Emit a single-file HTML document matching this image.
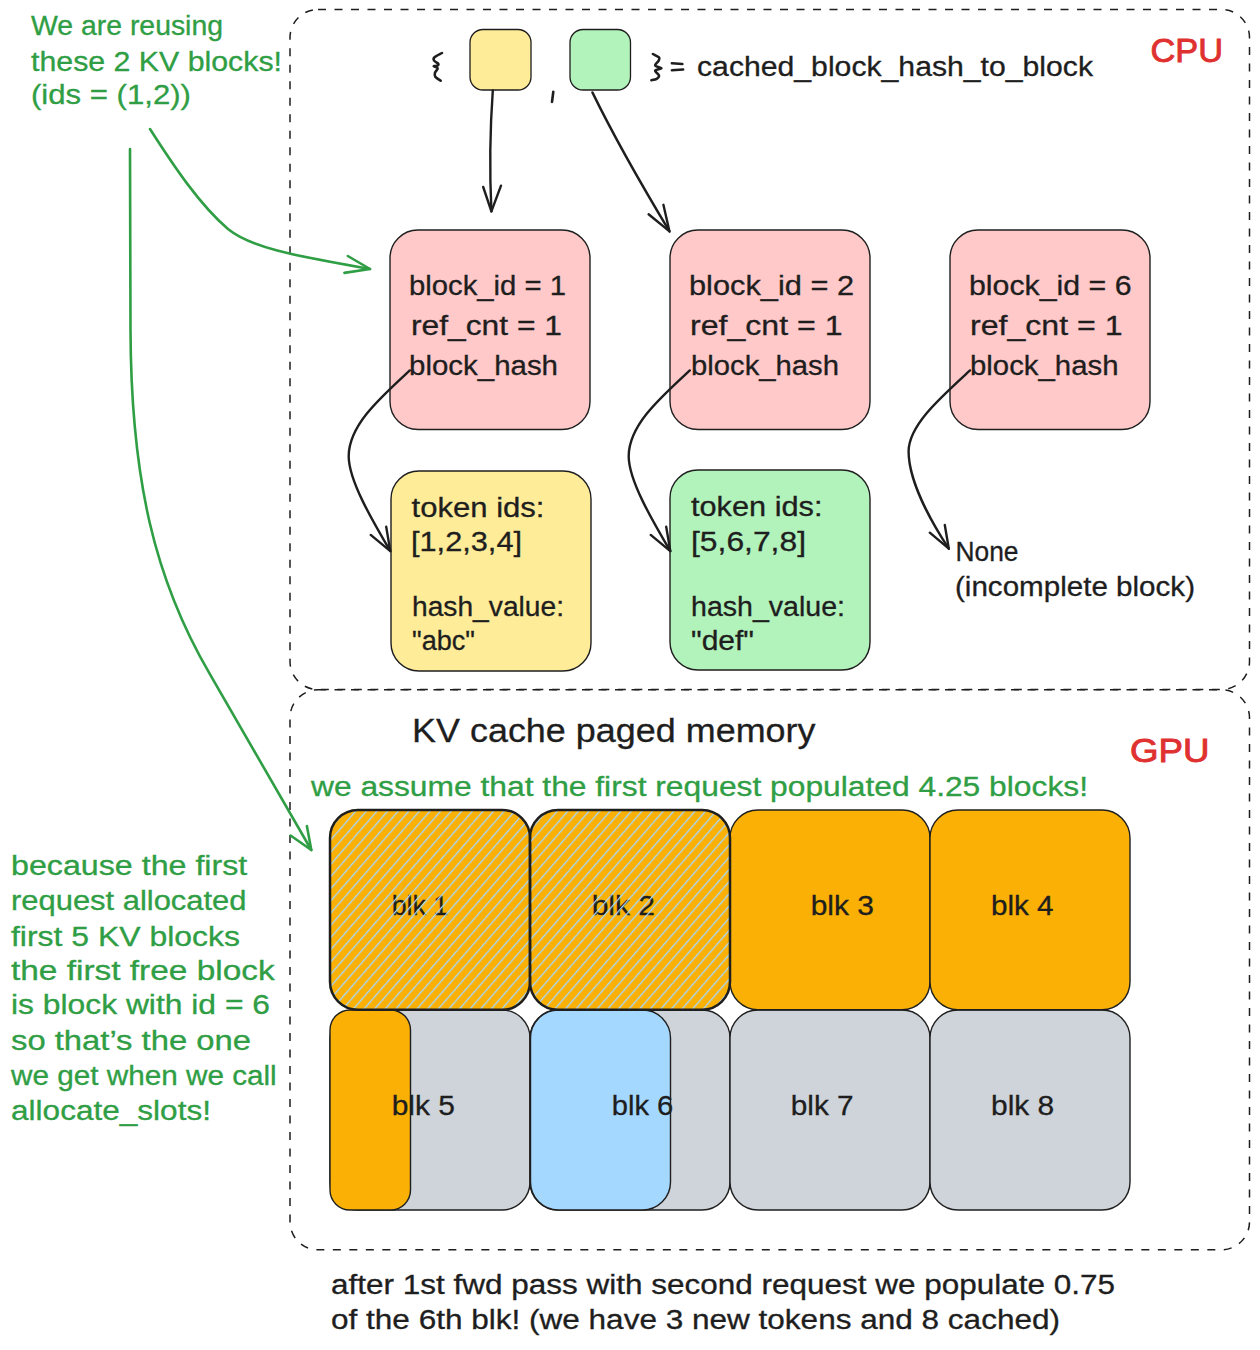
<!DOCTYPE html>
<html><head><meta charset="utf-8"><title>KV cache</title>
<style>
html,body{margin:0;padding:0;background:#fff;width:1260px;height:1350px;overflow:hidden}
svg{display:block}
text{font-family:"Liberation Sans",sans-serif;}
.k{fill:#1e1e1e;stroke:#1e1e1e;stroke-width:0.3}
.g{fill:#2f9e44;stroke:#2f9e44;stroke-width:0.3}
.r{fill:#e03131;stroke:#e03131;stroke-width:0.9}
</style></head><body>
<svg width="1260" height="1350" viewBox="0 0 1260 1350">
<defs>
<pattern id="hatch" patternUnits="userSpaceOnUse" width="8" height="8" patternTransform="rotate(41)">
<rect x="0" y="0" width="1.3" height="8" fill="#a5d8ff"/>
</pattern>
</defs>
<!-- containers -->
<g fill="none" stroke="#1e1e1e" stroke-width="1.5" stroke-dasharray="8 8.5">
<rect x="290" y="9.5" width="959.5" height="680" rx="28"/>
<rect x="290" y="689.8" width="959.5" height="560" rx="28"/>
</g>

<!-- small map squares -->
<g stroke="#1e1e1e" stroke-width="1.3">
<rect x="470" y="29.5" width="61" height="60.5" rx="13" fill="#ffec99"/>
<rect x="570" y="29.5" width="60.5" height="60.5" rx="13" fill="#b2f2bb"/>
</g>

<!-- pink boxes -->
<g stroke="#1e1e1e" stroke-width="1.4" fill="#ffc9c9">
<rect x="390" y="230" width="200" height="199.5" rx="28"/>
<rect x="670" y="230" width="200" height="199.5" rx="28"/>
<rect x="950" y="230" width="200" height="199.5" rx="28"/>
</g>
<g stroke="#1e1e1e" stroke-width="1.4">
<rect x="391" y="471" width="200" height="200" rx="28" fill="#ffec99"/>
<rect x="670" y="470" width="200" height="200" rx="28" fill="#b2f2bb"/>
</g>

<!-- GPU blocks row 2 -->
<g stroke="#1e1e1e" stroke-width="1.4" fill="#ced4da">
<rect x="330" y="1010" width="200" height="200" rx="28"/>
<rect x="530" y="1010" width="200" height="200" rx="28"/>
<rect x="730" y="1010" width="200" height="200" rx="28"/>
<rect x="930" y="1010" width="200" height="200" rx="28"/>
</g>
<g stroke="#1e1e1e" stroke-width="1.4">
<rect x="330" y="1010" width="80.5" height="200" rx="20" fill="#fab005"/>
<rect x="530.5" y="1010" width="140" height="200" rx="28" fill="#a5d8ff"/>
</g>
<!-- GPU blocks row 1 -->
<g stroke="#1e1e1e" stroke-width="1.4" fill="#fab005">
<rect x="730" y="810" width="200" height="199.8" rx="28"/>
<rect x="930" y="810" width="200" height="199.8" rx="28"/>
</g>
<g>
<rect x="330" y="810" width="200" height="199.8" rx="28" fill="#fab005"/>
<rect x="530" y="810" width="200" height="199.8" rx="28" fill="#fab005"/>
</g>

<!-- black arrows -->
<g fill="none" stroke="#1e1e1e" stroke-width="2.4" stroke-linecap="round" stroke-linejoin="round">
<path d="M492.8,90.5 Q488.5,150 491.4,211.4"/>
<path d="M483.2,187 L491.4,211.4 L501,185.7"/>
<path d="M592.4,92.4 Q620.5,150 669.5,231.4"/>
<path d="M648.6,214.3 L669.5,231.4 L663.4,204.8"/>
<path d="M409.8,370.4 C380,398 349,425 348.7,455.9 C348.5,480 372,520 390.3,551.1"/>
<path d="M370.7,534.9 L390.3,551.1 L386.2,526.7"/>
<path d="M689.8,370.4 C660,398 629,425 628.7,455.9 C628.5,480 652,520 670.3,551.1"/>
<path d="M650.7,534.9 L670.3,551.1 L666.2,526.7"/>
<path d="M970,370.4 C940,398 909,425 908.6,451 C908.5,480 930,520 948.8,548.7"/>
<path d="M929.8,532.7 L948.8,548.7 L944.8,525"/>
</g>

<!-- green arrows -->
<g fill="none" stroke="#2f9e44" stroke-width="2.6" stroke-linecap="round" stroke-linejoin="round">
<path d="M150,129 C175,168 200,205 228,229 C250,247 290,255 370,269"/>
<path d="M347.8,256 L370,269 L344.4,272.9"/>
<path d="M130,149 L130.5,330 C131,480 155,580 209.6,673.6 L311.3,850"/>
<path d="M290.6,835.5 L311.3,850 L306.9,826.1"/>
</g>

<!-- texts -->
<g font-size="27">
<text class="g" x="31" y="35" textLength="192" lengthAdjust="spacingAndGlyphs">We are reusing</text>
<text class="g" x="31" y="70.6" textLength="251" lengthAdjust="spacingAndGlyphs">these 2 KV blocks!</text>
<text class="g" x="31" y="104" textLength="160" lengthAdjust="spacingAndGlyphs">(ids = (1,2))</text>

<g fill="none" stroke="#1e1e1e" stroke-width="2.6" stroke-linecap="round" stroke-linejoin="round">
<path d="M442.0,53.0 C440.8,53.7 435.8,56.0 434.5,57.3 C433.2,58.5 433.4,59.4 434.0,60.5 C434.6,61.6 437.8,62.8 438.3,63.7 C438.9,64.6 438.1,65.3 437.3,65.7 C436.5,66.1 433.6,65.9 433.7,66.3 C433.8,66.7 437.5,67.2 437.7,68.3 C437.9,69.4 435.4,71.3 435.0,72.7 C434.6,74.1 434.4,75.4 435.3,76.7 C436.2,78.0 439.8,80.0 440.7,80.7"/>
<path d="M652.9,54.0 C653.9,54.6 658.0,56.3 659.0,57.4 C660.0,58.5 659.2,59.4 658.6,60.7 C658.0,62.1 654.7,64.2 655.2,65.5 C655.7,66.8 661.4,67.4 661.4,68.3 C661.4,69.2 655.6,69.5 655.2,70.7 C654.8,71.9 658.8,74.2 659.0,75.5 C659.2,76.8 658.0,78.0 656.7,78.8 C655.4,79.6 652.3,80.0 651.4,80.2"/>
<path d="M671.9,63.3 L682.4,64 M671.9,70.2 L683.1,69.5"/>
<path d="M552,101.9 L553.3,91.8"/>
</g>
<text class="k" x="697" y="75.6" textLength="396" lengthAdjust="spacingAndGlyphs">cached_block_hash_to_block</text>

<text class="k" x="409" y="294.5" textLength="157" lengthAdjust="spacingAndGlyphs">block_id = 1</text>
<text class="k" x="411" y="334.5" textLength="151" lengthAdjust="spacingAndGlyphs">ref_cnt = 1</text>
<text class="k" x="409" y="374.5" textLength="149" lengthAdjust="spacingAndGlyphs">block_hash</text>

<text class="k" x="689" y="294.5" textLength="165" lengthAdjust="spacingAndGlyphs">block_id = 2</text>
<text class="k" x="690" y="334.5" textLength="152.5" lengthAdjust="spacingAndGlyphs">ref_cnt = 1</text>
<text class="k" x="691" y="374.5" textLength="148" lengthAdjust="spacingAndGlyphs">block_hash</text>

<text class="k" x="969" y="294.5" textLength="162.5" lengthAdjust="spacingAndGlyphs">block_id = 6</text>
<text class="k" x="970" y="334.5" textLength="152.5" lengthAdjust="spacingAndGlyphs">ref_cnt = 1</text>
<text class="k" x="970" y="374.5" textLength="148.5" lengthAdjust="spacingAndGlyphs">block_hash</text>

<text class="k" x="411.5" y="516.5" textLength="133" lengthAdjust="spacingAndGlyphs">token ids:</text>
<text class="k" x="411" y="550.5" textLength="111" lengthAdjust="spacingAndGlyphs">[1,2,3,4]</text>
<text class="k" x="412" y="615.5" textLength="152" lengthAdjust="spacingAndGlyphs">hash_value:</text>
<text class="k" x="412" y="649.5" textLength="63" lengthAdjust="spacingAndGlyphs">"abc"</text>

<text class="k" x="691" y="516" textLength="131.5" lengthAdjust="spacingAndGlyphs">token ids:</text>
<text class="k" x="691" y="550.5" textLength="115" lengthAdjust="spacingAndGlyphs">[5,6,7,8]</text>
<text class="k" x="691" y="615.5" textLength="154" lengthAdjust="spacingAndGlyphs">hash_value:</text>
<text class="k" x="691" y="649.5" textLength="63" lengthAdjust="spacingAndGlyphs">"def"</text>

<text class="k" x="955.5" y="561.3" textLength="63" lengthAdjust="spacingAndGlyphs">None</text>
<text class="k" x="955" y="596" textLength="240" lengthAdjust="spacingAndGlyphs">(incomplete block)</text>

<text class="r" x="1150.5" y="61.6" font-size="34" textLength="72.5" lengthAdjust="spacingAndGlyphs">CPU</text>

<text class="k" x="412" y="742" font-size="34" textLength="403.5" lengthAdjust="spacingAndGlyphs">KV cache paged memory</text>
<text class="r" x="1130" y="762.3" font-size="34" textLength="79.5" lengthAdjust="spacingAndGlyphs">GPU</text>
<text class="g" x="311" y="795.5" textLength="777" lengthAdjust="spacingAndGlyphs">we assume that the first request populated 4.25 blocks!</text>

<text class="k" x="391.7" y="915" textLength="56.3" lengthAdjust="spacingAndGlyphs">blk 1</text>
<text class="k" x="591.7" y="915" textLength="63.3" lengthAdjust="spacingAndGlyphs">blk 2</text>
<text class="k" x="810.7" y="915" textLength="63.3" lengthAdjust="spacingAndGlyphs">blk 3</text>
<text class="k" x="991" y="915" textLength="62.6" lengthAdjust="spacingAndGlyphs">blk 4</text>
<text class="k" x="391.7" y="1115" textLength="63.3" lengthAdjust="spacingAndGlyphs">blk 5</text>
<text class="k" x="611.7" y="1115" textLength="61.6" lengthAdjust="spacingAndGlyphs">blk 6</text>
<text class="k" x="790.7" y="1115" textLength="63" lengthAdjust="spacingAndGlyphs">blk 7</text>
<text class="k" x="991" y="1115" textLength="63.3" lengthAdjust="spacingAndGlyphs">blk 8</text>

<text class="g" x="11" y="875" textLength="236.3" lengthAdjust="spacingAndGlyphs">because the first</text>
<text class="g" x="11" y="910.3" textLength="235.5" lengthAdjust="spacingAndGlyphs">request allocated</text>
<text class="g" x="11" y="945.6" textLength="229" lengthAdjust="spacingAndGlyphs">first 5 KV blocks</text>
<text class="g" x="11" y="980" textLength="263.7" lengthAdjust="spacingAndGlyphs">the first free block</text>
<text class="g" x="11" y="1014.3" textLength="259" lengthAdjust="spacingAndGlyphs">is block with id = 6</text>
<text class="g" x="11" y="1049.6" textLength="240" lengthAdjust="spacingAndGlyphs">so that’s the one</text>
<text class="g" x="11" y="1085" textLength="265.7" lengthAdjust="spacingAndGlyphs">we get when we call</text>
<text class="g" x="11" y="1120" textLength="200" lengthAdjust="spacingAndGlyphs">allocate_slots!</text>

<text class="k" x="331" y="1294.3" textLength="784" lengthAdjust="spacingAndGlyphs">after 1st fwd pass with second request we populate 0.75</text>
<text class="k" x="331" y="1329.2" textLength="729" lengthAdjust="spacingAndGlyphs">of the 6th blk! (we have 3 new tokens and 8 cached)</text>
</g>
<g>
<rect x="330" y="810" width="200" height="199.8" rx="28" fill="url(#hatch)" stroke="#1e1e1e" stroke-width="2.5"/>
<rect x="530" y="810" width="200" height="199.8" rx="28" fill="url(#hatch)" stroke="#1e1e1e" stroke-width="2.5"/>
</g>
</svg>
</body></html>
